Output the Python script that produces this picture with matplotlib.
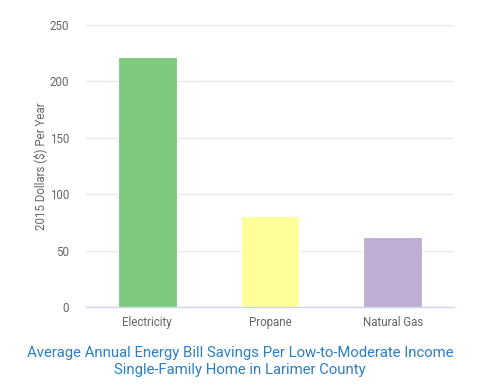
import matplotlib
matplotlib.use("Agg")
import matplotlib.pyplot as plt

categories = ["Electricity", "Propane", "Natural Gas"]
values = [222, 81, 62]
colors = ["#7fc97f", "#ffff99", "#beaed4"]
yticks = [0, 50, 100, 150, 200, 250]

plt.rcParams['font.family'] = ['Roboto', 'DejaVu Sans']

fig = plt.figure(figsize=(4.8, 3.87), dpi=100)
ax = fig.add_axes([86/480, 1-307/387, (454-86)/480, (307-25)/387])

x = list(range(len(categories)))
ax.bar(x, values, width=0.48, color=colors, edgecolor="white", linewidth=0.8, zorder=3)
ax.set_xlim(-0.5, 2.5)
ax.set_ylim(0, 250)
ax.set_yticks(yticks)
ax.set_yticklabels([str(t) for t in yticks])
ax.set_xticks(x)
ax.set_xticklabels(categories)
ax.grid(axis="y", color="#e9e9e9", linewidth=1, zorder=0)
ax.set_axisbelow(True)
for s in ["top", "right", "left"]:
    ax.spines[s].set_visible(False)
ax.spines["bottom"].set_color("#ccd6eb")
ax.spines["bottom"].set_linewidth(1)
ax.spines["bottom"].set_zorder(4)
ax.tick_params(axis="both", length=0, labelsize=8.3, labelcolor="#666666")
ax.tick_params(axis="y", pad=12)
ax.tick_params(axis="x", pad=6.5)
ax.set_ylabel("2015 Dollars ($) Per Year", fontsize=8.3, color="#666666", labelpad=2)

fig.text(0.5, 1-361.5/387, "Average Annual Energy Bill Savings Per Low-to-Moderate Income\nSingle-Family Home in Larimer County",
         ha="center", va="center", fontsize=10.7, color="#2a7fc6", linespacing=1.2)

fig.savefig("out.png", dpi=100)
